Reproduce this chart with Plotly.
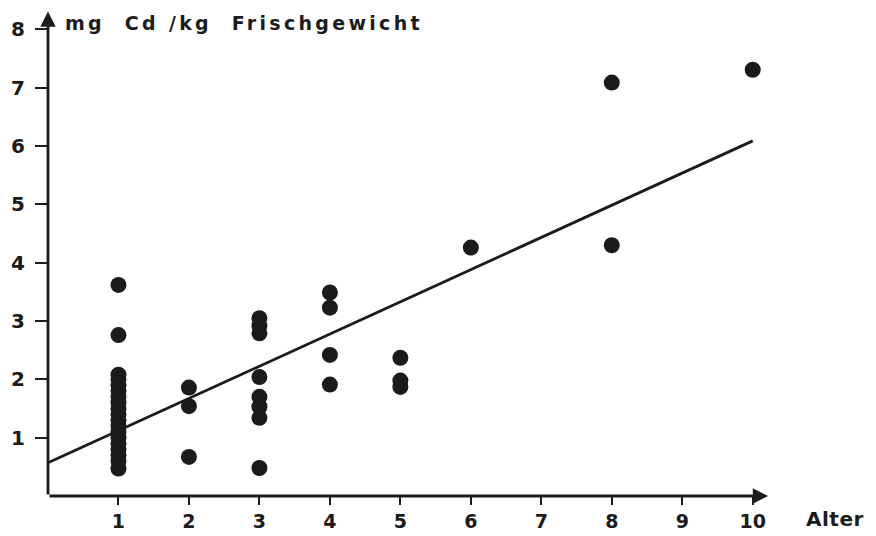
import plotly.graph_objects as go

# Data
alter = [1]*19 + [2]*3 + [3]*8 + [4]*4 + [5]*3 + [6] + [8]*2 + [10]
cadmium = [3.62, 2.76, 2.08, 2.0, 1.9, 1.8, 1.7, 1.6, 1.5, 1.4, 1.3, 1.2, 1.1, 1.0, 0.9, 0.8, 0.7, 0.6, 0.47,
           1.86, 1.54, 0.67,
           3.05, 2.92, 2.79, 2.04, 1.70, 1.53, 1.34, 0.48,
           3.49, 3.23, 2.42, 1.91,
           2.37, 1.98, 1.87,
           4.26,
           7.09, 4.30,
           7.31]
trend_x = [0, 10]
trend_y = [0.57, 6.09]
x_ticks = [1, 2, 3, 4, 5, 6, 7, 8, 9, 10]
y_ticks = [1, 2, 3, 4, 5, 6, 7, 8]

ink = "#1b1b1b"
font_family = "DejaVu Sans, Verdana, sans-serif"

fig = go.Figure()
fig.add_trace(go.Scatter(x=trend_x, y=trend_y, mode="lines",
                         line=dict(color=ink, width=2.8), hoverinfo="skip"))
fig.add_trace(go.Scatter(x=alter, y=cadmium, mode="markers",
                         marker=dict(color=ink, size=16, line=dict(width=0))))

# axes with arrows
fig.add_annotation(x=10.22, y=0, ax=0, ay=0, xref="x", yref="y", axref="x", ayref="y",
                   showarrow=True, arrowhead=2, arrowsize=1.1, arrowwidth=2.8, arrowcolor=ink, text="")
fig.add_annotation(x=0, y=8.31, ax=0, ay=0, xref="x", yref="y", axref="x", ayref="y",
                   showarrow=True, arrowhead=2, arrowsize=1.1, arrowwidth=2.8, arrowcolor=ink, text="")

fig.add_annotation(x=0.0205, y=0.977, xref="paper", yref="paper",
                   text='<span style="letter-spacing:3.3px">mg  Cd /kg  Frischgewicht</span>',
                   showarrow=False, xanchor="left", yanchor="middle",
                   font=dict(family=font_family, size=19, color=ink, weight="bold"))
fig.add_annotation(x=1.054, y=-0.048, xref="paper", yref="paper",
                   text='<span style="letter-spacing:0.5px">Alter</span>',
                   showarrow=False, xanchor="center", yanchor="middle",
                   font=dict(family=font_family, size=20, color=ink, weight="bold"))

fig.update_xaxes(range=[0, 10.6], tickvals=x_ticks, ticks="outside", ticklen=8, tickwidth=2,
                 tickcolor=ink, showgrid=False, zeroline=False, showline=False,
                 ticklabelstandoff=0, automargin=False,
                 tickfont=dict(family=font_family, size=19, color=ink, weight="bold"))
fig.update_yaxes(range=[0, 8.3], tickvals=y_ticks, ticks="outside", ticklen=12, tickwidth=2,
                 tickcolor=ink, showgrid=False, zeroline=False, showline=False,
                 ticklabelstandoff=6, automargin=False,
                 tickfont=dict(family=font_family, size=20, color=ink, weight="bold"))

# the page shows the figure 8px in from the top-left corner
fig.update_layout(width=860, height=528, showlegend=False,
                  margin=dict(l=40, r=73, t=4, b=40, autoexpand=False),
                  plot_bgcolor="white", paper_bgcolor="white")

fig.write_html("out.html")
